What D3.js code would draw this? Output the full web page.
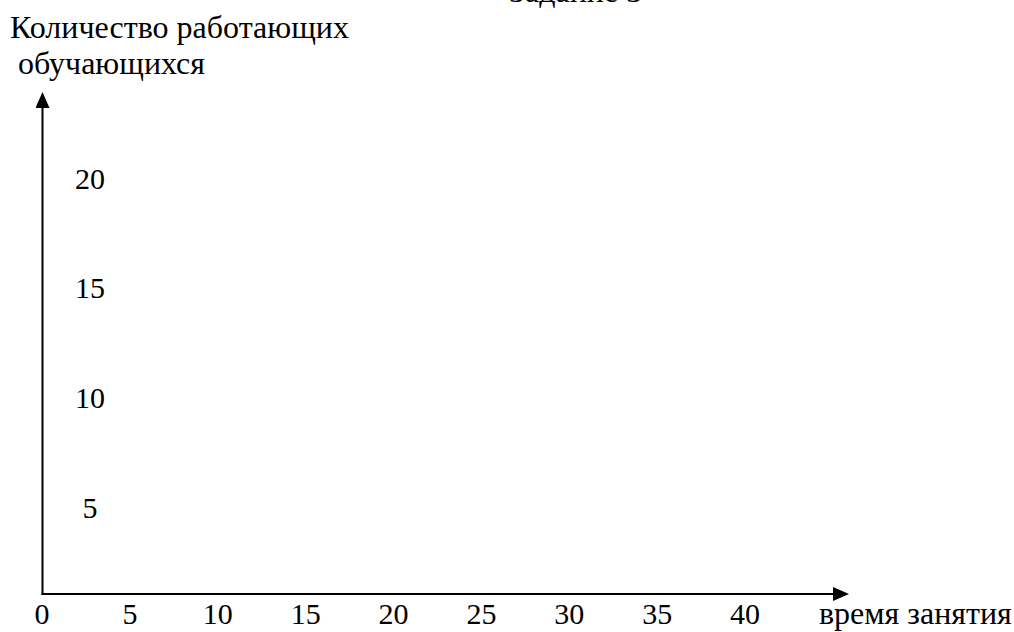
<!DOCTYPE html>
<html>
<head>
<meta charset="utf-8">
<script src="https://cdn.jsdelivr.net/npm/d3@7"></script>
<style>
  html, body { margin: 0; padding: 0; background: #fff; }
  svg { display: block; }
</style>
</head>
<body>
<div id="chart"></div>
<script>
// Chart values
const TITLE = "Задание 3";
const Y_TITLE_LINES = ["Количество работающих", " обучающихся"];
const X_TITLE = "время занятия";
const X_TICKS = [0, 5, 10, 15, 20, 25, 30, 35, 40];
const Y_TICKS = [5, 10, 15, 20];

const CONFIG = {
    width: 1014,
    height: 632,
    font: "'Liberation Serif', 'Times New Roman', serif",
    textSize: 32,
    tickSize: 30,
    originX: 42.5,
    originY: 594
};

const svg = d3.select("#chart")
    .append("svg")
    .attr("width", CONFIG.width)
    .attr("height", CONFIG.height)
    .attr("font-family", CONFIG.font)
    .attr("font-size", CONFIG.textSize);

// Scales (label positions)
const x = d3.scaleLinear().domain([0, 40]).range([42, 745]);
const y = d3.scaleLinear().domain([5, 20]).range([507, 178]);

// Arrow marker
svg.append("defs").append("marker")
    .attr("id", "arrow")
    .attr("viewBox", "0 -7 16 14")
    .attr("refX", 0)
    .attr("refY", 0)
    .attr("markerUnits", "userSpaceOnUse")
    .attr("markerWidth", 16)
    .attr("markerHeight", 14)
    .attr("orient", "auto")
    .append("path")
    .attr("d", "M0,-7L16,0L0,7Z")
    .attr("fill", "#000");

// Axes
const axes = svg.append("g")
    .attr("stroke", "#000")
    .attr("stroke-width", 2)
    .attr("fill", "none");

axes.append("line")
    .attr("x1", CONFIG.originX).attr("y1", CONFIG.originY + 1)
    .attr("x2", CONFIG.originX).attr("y2", 108)
    .attr("marker-end", "url(#arrow)");

axes.append("line")
    .attr("x1", CONFIG.originX - 1).attr("y1", CONFIG.originY)
    .attr("x2", 833).attr("y2", CONFIG.originY)
    .attr("marker-end", "url(#arrow)");

// X tick labels
svg.append("g")
    .attr("font-size", CONFIG.tickSize)
    .selectAll("text")
    .data(X_TICKS)
    .join("text")
    .attr("x", d => x(d))
    .attr("y", 624)
    .attr("text-anchor", "middle")
    .text(d => d);

// Y tick labels
svg.append("g")
    .attr("font-size", CONFIG.tickSize)
    .selectAll("text")
    .data(Y_TICKS)
    .join("text")
    .attr("x", 90)
    .attr("y", d => y(d))
    .attr("dy", "0.35em")
    .attr("text-anchor", "middle")
    .text(d => d);

// Titles
svg.append("text")
    .attr("x", 509)
    .attr("y", 2)
    .text(TITLE);

svg.append("text")
    .attr("x", 819)
    .attr("y", 624)
    .text(X_TITLE);

svg.append("g")
    .selectAll("text")
    .data(Y_TITLE_LINES)
    .join("text")
    .attr("x", 10)
    .attr("y", (d, i) => 38 + i * 36)
    .style("white-space", "pre")
    .text(d => d);
</script>
</body>
</html>
